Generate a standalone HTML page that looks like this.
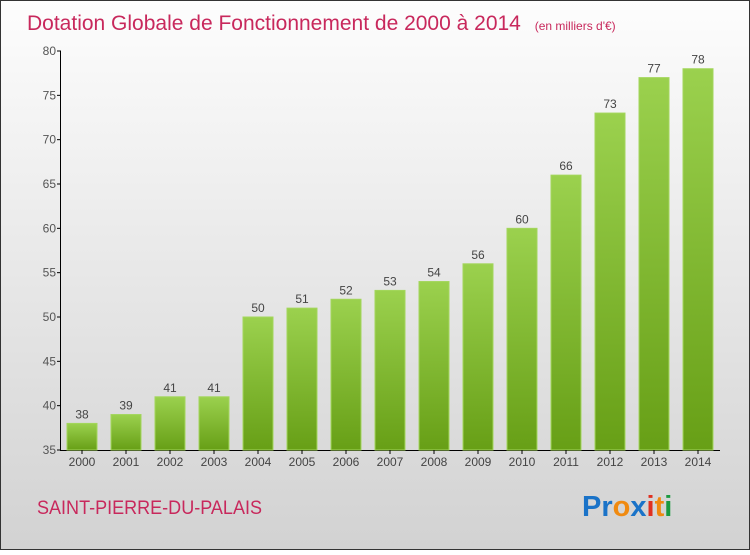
<!DOCTYPE html>
<html><head><meta charset="utf-8"><style>
body{margin:0;}
#c{width:750px;height:550px;position:relative;font-family:"Liberation Sans",sans-serif;}
</style></head><body>
<div id="c">
<svg id="s" width="750" height="550" xmlns="http://www.w3.org/2000/svg">
<defs>
<linearGradient id="bg" x1="0" y1="0" x2="0" y2="1"><stop offset="0" stop-color="#fdfdfd"/><stop offset="1" stop-color="#d2d2d2"/></linearGradient>
<linearGradient id="bar" x1="0" y1="0" x2="0" y2="1"><stop offset="0" stop-color="#9bd14e"/><stop offset="1" stop-color="#679f16"/></linearGradient>
</defs>
<rect x="0.5" y="0.5" width="749" height="549" fill="url(#bg)" stroke="#333"/>
<text x="27" y="30" font-size="21" fill="#c8285c">Dotation Globale de Fonctionnement de 2000 à 2014 <tspan font-size="12" dx="8">(en milliers d'€)</tspan></text>
<g id="plot"></g>
<text x="37" y="514" font-size="19" fill="#c8285c" textLength="225" lengthAdjust="spacingAndGlyphs">SAINT-PIERRE-DU-PALAIS</text>
<text x="582" y="516" font-size="29" font-weight="bold"><tspan fill="#1a73c8">Pr</tspan><tspan fill="#f08a10">o</tspan><tspan fill="#1a73c8">x</tspan><tspan fill="#e03020">i</tspan><tspan fill="#f08a10">t</tspan><tspan fill="#1a9a40">i</tspan></text>
</svg>
</div>
<script>
const years=["2000","2001","2002","2003","2004","2005","2006","2007","2008","2009","2010","2011","2012","2013","2014"];
const values=[38,39,41,41,50,51,52,53,54,56,60,66,73,77,78];
const yTicks=[35,40,45,50,55,60,65,70,75,80];
const NS="http://www.w3.org/2000/svg";
const g=document.getElementById('plot');
const y=v=>450-(v-35)*(399/45);
const x=i=>82+i*44;
function mk(t,a){const e=document.createElementNS(NS,t);for(const k in a)e.setAttribute(k,a[k]);g.appendChild(e);return e;}
let ax=mk('line',{x1:60.5,y1:51,x2:60.5,y2:450.5,stroke:'#000'});


let bx=mk('line',{x1:60,y1:450.5,x2:720,y2:450.5,stroke:'#000'});


yTicks.forEach(v=>{
 const tk=mk('line',{x1:57,x2:61,y1:y(v),y2:y(v),stroke:'#000'});
 
 
 const t=mk('text',{x:56,y:y(v)+4,'font-size':12,fill:'#555','text-anchor':'end'});
 t.textContent=v;
 
 
});
values.forEach((v,i)=>{
 const r=mk('rect',{x:x(i)-15,y:y(v),width:30,height:450-y(v),fill:'url(#bar)',stroke:'#a3d65c','stroke-width':1});
 
 
 const t=mk('text',{x:x(i),y:y(v)-5,'font-size':12,fill:'#444','text-anchor':'middle'});
 t.textContent=v;
 
 
 const tk=mk('line',{x1:x(i),x2:x(i),y1:450,y2:454,stroke:'#000'});
 
 
 const l=mk('text',{x:x(i),y:466,'font-size':12,fill:'#444','text-anchor':'middle'});
 l.textContent=years[i];
 
 
});
</script>
</body></html>
